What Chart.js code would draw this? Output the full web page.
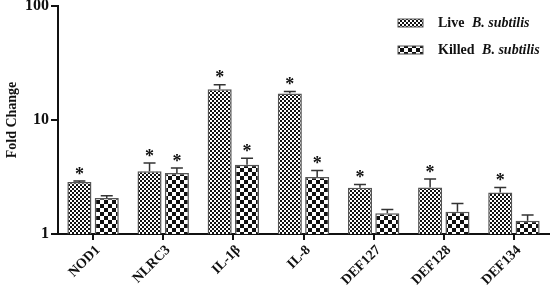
<!DOCTYPE html>
<html>
<head>
<meta charset="utf-8">
<script src="https://cdn.jsdelivr.net/npm/chart.js@4.4.0/dist/chart.umd.min.js"></script>
<style>
    html, body { margin: 0; padding: 0; background: #fff; }
    #wrap { width: 551px; height: 286px; position: relative; }
</style>
</head>
<body>
<div id="wrap"><canvas id="fold-change-chart"></canvas></div>
<script>
const categories = ['NOD1', 'NLRC3', 'IL-1β', 'IL-8', 'DEF127', 'DEF128', 'DEF134'];
const liveValues = [2.86, 3.55, 18.6, 17.1, 2.54, 2.56, 2.31];
const liveErrors = [0.05, 0.65, 1.8, 0.7, 0.18, 0.48, 0.25];
const killedValues = [2.07, 3.43, 4.06, 3.17, 1.52, 1.57, 1.31];
const killedErrors = [0.1, 0.36, 0.55, 0.43, 0.12, 0.28, 0.16];
const liveSignificant = [true, true, true, true, true, true, true];
const killedSignificant = [false, true, true, true, false, false, false];
const yTicks = [1, 10, 100];

const serif = "'Liberation Serif', 'Times New Roman', serif";

function makeChecker(cell) {
    const c = document.createElement('canvas');
    c.width = cell * 2;
    c.height = cell * 2;
    const g = c.getContext('2d');
    g.fillStyle = '#fff';
    g.fillRect(0, 0, c.width, c.height);
    g.fillStyle = '#111';
    g.fillRect(0, 0, cell, cell);
    g.fillRect(cell, cell, cell, cell);
    return c;
}

const ctx = document.getElementById('fold-change-chart').getContext('2d');
const livePattern = ctx.createPattern(makeChecker(2), 'repeat');
const killedPattern = ctx.createPattern(makeChecker(4), 'repeat');

// error bars + asterisks on top of each bar
const errorBarPlugin = {
    id: 'errorBars',
    afterDatasetsDraw(chart) {
        const c = chart.ctx;
        const yScale = chart.scales.y;
        const sets = [
            { errors: liveErrors, values: liveValues, sig: liveSignificant },
            { errors: killedErrors, values: killedValues, sig: killedSignificant }
        ];
        sets.forEach((s, di) => {
            const meta = chart.getDatasetMeta(di);
            meta.data.forEach((bar, i) => {
                const top = yScale.getPixelForValue(s.values[i] + s.errors[i]);
                const base = yScale.getPixelForValue(s.values[i]);
                c.save();
                c.strokeStyle = '#333';
                c.lineWidth = 1.5;
                c.beginPath();
                c.moveTo(bar.x, base);
                c.lineTo(bar.x, top);
                c.moveTo(bar.x - 6, top);
                c.lineTo(bar.x + 6, top);
                c.stroke();
                if (s.sig[i]) {
                    c.fillStyle = '#111';
                    c.font = 'bold 18px ' + serif;
                    c.textAlign = 'center';
                    c.textBaseline = 'middle';
                    c.fillText('*', bar.x, top - 6);
                }
                c.restore();
            });
        });
    }
};

// legend with italic species name
const legendPlugin = {
    id: 'customLegend',
    afterDraw(chart) {
        const c = chart.ctx;
        const items = [
            { pattern: livePattern, label: 'Live', y: 23 },
            { pattern: killedPattern, label: 'Killed', y: 50 }
        ];
        items.forEach(item => {
            c.save();
            c.fillStyle = item.pattern;
            c.fillRect(398, item.y - 4, 25, 8);
            c.strokeStyle = '#555';
            c.lineWidth = 1;
            c.strokeRect(398, item.y - 4, 25, 8);
            c.fillStyle = '#111';
            c.textBaseline = 'middle';
            c.font = 'bold 14px ' + serif;
            c.fillText(item.label, 438, item.y);
            const w = c.measureText(item.label + ' ').width;
            c.font = 'italic bold 14px ' + serif;
            c.fillText('B. subtilis', 438 + w + 4, item.y);
            c.restore();
        });
    }
};

new Chart(ctx, {
    type: 'bar',
    data: {
        labels: categories,
        datasets: [
            {
                label: 'Live B. subtilis',
                data: liveValues,
                backgroundColor: livePattern,
                borderColor: '#555',
                borderWidth: 1.5,
                categoryPercentage: 0.78,
                barPercentage: 0.88
            },
            {
                label: 'Killed B. subtilis',
                data: killedValues,
                backgroundColor: killedPattern,
                borderColor: '#555',
                borderWidth: 1.5,
                categoryPercentage: 0.78,
                barPercentage: 0.88
            }
        ]
    },
    options: {
        responsive: true,
        maintainAspectRatio: false,
        animation: false,
        layout: {
            padding: { top: 6, right: 2, left: 0, bottom: 0 }
        },
        scales: {
            x: {
                grid: {
                    offset: false,
                    drawOnChartArea: false,
                    drawTicks: true,
                    tickLength: 6,
                    color: '#111',
                    lineWidth: 2
                },
                border: { display: true, color: '#111', width: 2 },
                ticks: {
                    color: '#111',
                    minRotation: 45,
                    maxRotation: 45,
                    padding: 2,
                    labelOffset: 5,
                    font: { family: serif, weight: 'bold', size: 14 }
                },
                afterFit: function(scale) {
                    scale.height = 52;
                    scale.paddingLeft = 0;
                    scale.paddingRight = 0;
                }
            },
            y: {
                type: 'logarithmic',
                min: 1,
                max: 100,
                afterBuildTicks: function(scale) {
                    scale.ticks = yTicks.map(v => ({ value: v }));
                },
                grid: {
                    drawOnChartArea: false,
                    drawTicks: true,
                    tickLength: 7,
                    color: '#111',
                    lineWidth: 2
                },
                border: { display: true, color: '#111', width: 2 },
                ticks: {
                    color: '#111',
                    padding: 2,
                    font: { family: serif, weight: 'bold', size: 16 },
                    callback: function(value) { return String(value); }
                },
                title: {
                    display: true,
                    text: 'Fold Change',
                    color: '#111',
                    padding: { top: 4, bottom: 0 },
                    font: { family: serif, weight: 'bold', size: 14 }
                },
                afterFit: function(scale) {
                    scale.width = 58;
                    scale.paddingTop = 0;
                    scale.paddingBottom = 0;
                }
            }
        },
        plugins: {
            legend: { display: false },
            tooltip: { enabled: false }
        }
    },
    plugins: [errorBarPlugin, legendPlugin]
});
</script>
</body>
</html>
